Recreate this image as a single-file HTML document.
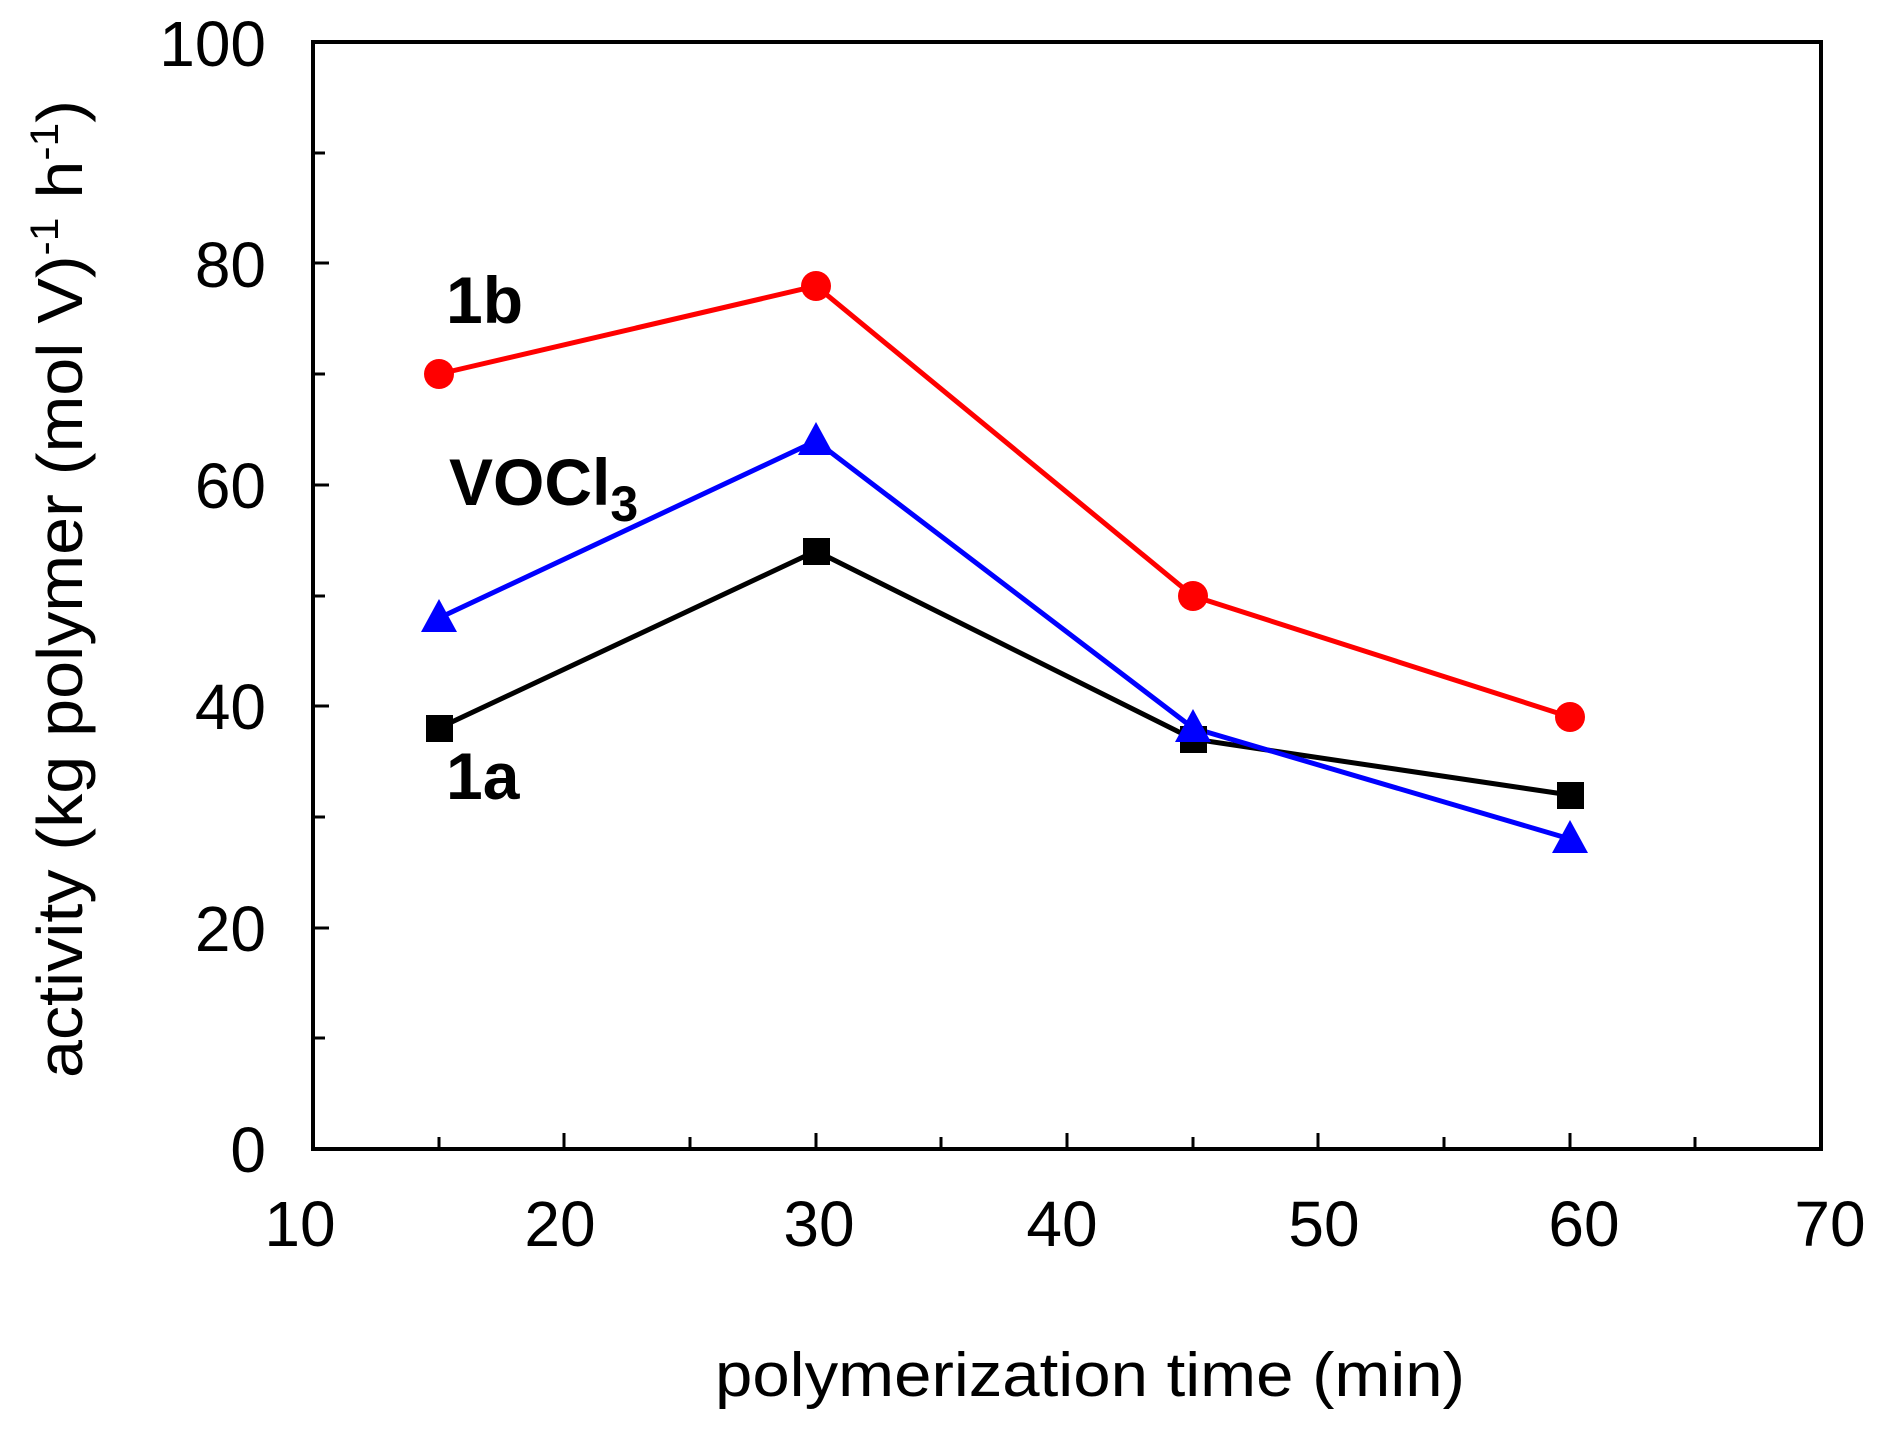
<!DOCTYPE html>
<html><head><meta charset="utf-8"><style>html,body{margin:0;padding:0;background:#fff}svg{display:block}</style></head>
<body>
<svg width="1879" height="1433" viewBox="0 0 1879 1433" xmlns="http://www.w3.org/2000/svg" font-family="Liberation Sans, Arial, sans-serif">
<rect width="1879" height="1433" fill="#fff"/>
<rect x="313" y="42" width="1508" height="1107" fill="none" stroke="#000" stroke-width="4"/>
<g stroke="#000" stroke-width="3">
<line x1="439" y1="1149" x2="439" y2="1137"/>
<line x1="564" y1="1149" x2="564" y2="1133"/>
<line x1="690" y1="1149" x2="690" y2="1137"/>
<line x1="816" y1="1149" x2="816" y2="1133"/>
<line x1="941" y1="1149" x2="941" y2="1137"/>
<line x1="1067" y1="1149" x2="1067" y2="1133"/>
<line x1="1193" y1="1149" x2="1193" y2="1137"/>
<line x1="1318" y1="1149" x2="1318" y2="1133"/>
<line x1="1444" y1="1149" x2="1444" y2="1137"/>
<line x1="1570" y1="1149" x2="1570" y2="1133"/>
<line x1="1695" y1="1149" x2="1695" y2="1137"/>
<line x1="313" y1="1038" x2="325" y2="1038"/>
<line x1="313" y1="928" x2="329" y2="928"/>
<line x1="313" y1="817" x2="325" y2="817"/>
<line x1="313" y1="706" x2="329" y2="706"/>
<line x1="313" y1="596" x2="325" y2="596"/>
<line x1="313" y1="485" x2="329" y2="485"/>
<line x1="313" y1="374" x2="325" y2="374"/>
<line x1="313" y1="263" x2="329" y2="263"/>
<line x1="313" y1="153" x2="325" y2="153"/>
</g>
<g font-size="64" fill="#000" text-anchor="middle">
<text x="300" y="1246">10</text>
<text x="560" y="1246">20</text>
<text x="819" y="1246">30</text>
<text x="1062" y="1246">40</text>
<text x="1324" y="1246">50</text>
<text x="1584" y="1246">60</text>
<text x="1830" y="1246">70</text>
</g>
<g font-size="64" fill="#000" text-anchor="end">
<text x="266" y="1172">0</text>
<text x="266" y="951">20</text>
<text x="266" y="729">40</text>
<text x="266" y="508">60</text>
<text x="266" y="287">80</text>
<text x="266" y="66">100</text>
</g>
<text x="715" y="1396" font-size="62" textLength="750" lengthAdjust="spacingAndGlyphs">polymerization time (min)</text>
<text transform="translate(82,1078) rotate(-90)" font-size="64" textLength="978" lengthAdjust="spacingAndGlyphs">activity (kg polymer (mol V)<tspan dy="-24" font-size="40">-1</tspan><tspan dy="24"> h</tspan><tspan dy="-24" font-size="40">-1</tspan><tspan dy="24">)</tspan></text>
<g font-size="66" font-weight="bold" fill="#000">
<text x="446" y="323">1b</text>
<text x="449" y="505">VOCl<tspan dy="16" font-size="50">3</tspan></text>
<text x="446" y="799">1a</text>
</g>
<polyline points="439,374 816,286 1193,596 1570,717" fill="none" stroke="#ff0000" stroke-width="5"/>
<polyline points="439,728 816,551 1193,739 1570,795" fill="none" stroke="#000" stroke-width="5"/>
<polyline points="439,618 816,441 1193,728 1570,839" fill="none" stroke="#0000ff" stroke-width="5"/>
<g fill="#ff0000">
<circle cx="439" cy="374" r="15"/><circle cx="816" cy="286" r="15"/><circle cx="1193" cy="596" r="15"/><circle cx="1570" cy="717" r="15"/>
</g>
<g fill="#000">
<rect x="426" y="715" width="27" height="27"/><rect x="803" y="538" width="27" height="27"/><rect x="1180" y="726" width="27" height="27"/><rect x="1557" y="782" width="27" height="27"/>
</g>
<g fill="#0000ff">
<polygon points="439,599 457,632 421,632"/>
<polygon points="816,422 834,455 798,455"/>
<polygon points="1193,709 1211,742 1175,742"/>
<polygon points="1570,820 1588,853 1552,853"/>
</g>
</svg>
</body></html>
